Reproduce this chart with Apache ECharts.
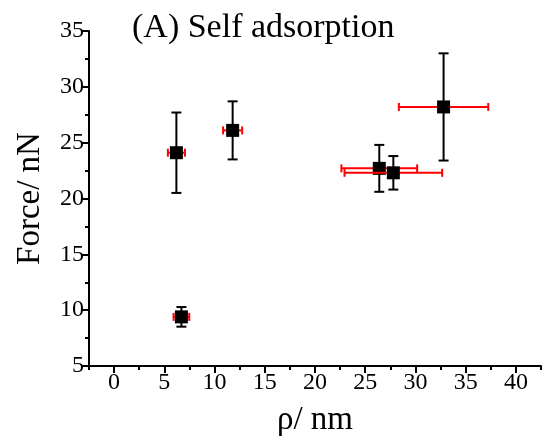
<!DOCTYPE html>
<html>
<head>
<meta charset="utf-8">
<script src="https://cdn.jsdelivr.net/npm/echarts@6/dist/echarts.min.js"></script>
<style>html,body{margin:0;padding:0;background:#fff}#c{width:544px;height:442px}</style>
</head>
<body>
<div id="c"></div>
<script>
var rho = [6.2, 11.8, 6.7, 32.8, 26.4, 27.8];
var force = [24.1, 26.1, 9.4, 28.2, 22.7, 22.3];
var forceErr = [3.6, 2.6, 0.88, 4.8, 2.1, 1.5];
var rhoErr = [0.85, 0.95, 0.78, 4.45, 3.77, 4.86];
var xMajorTicks = [0, 5, 10, 15, 20, 25, 30, 35, 40];
var xMinorTicks = [-2.5, 2.5, 7.5, 12.5, 17.5, 22.5, 27.5, 32.5, 37.5, 42.5];

var FONT = '"Liberation Serif", "Times New Roman", serif';
var data = rho.map(function (r, i) { return [r, force[i], rhoErr[i], forceErr[i]]; });

var chart = echarts.init(document.getElementById('c'));
chart.setOption({
  animation: false,
  backgroundColor: '#fff',
  title: {
    text: '(A) Self adsorption',
    left: 127, top: 6,
    textStyle: { fontFamily: FONT, fontSize: 34, fontWeight: 'normal', color: '#000' }
  },
  grid: { left: 89, right: 3, top: 31, bottom: 75 },
  xAxis: [{
    type: 'value', min: -2.5, max: 42.5,
    name: 'ρ/ nm', nameLocation: 'middle', nameGap: 38,
    nameTextStyle: { fontFamily: FONT, fontSize: 33, color: '#000' },
    axisLine: { show: true, onZero: false, lineStyle: { color: '#000', width: 2 } },
    axisTick: { show: true, customValues: xMajorTicks, length: 7, lineStyle: { color: '#000', width: 2 } },
    axisLabel: { customValues: xMajorTicks, fontFamily: FONT, fontSize: 24, color: '#000', margin: 5 },
    splitLine: { show: false }
  }, {
    type: 'value', min: -2.5, max: 42.5, position: 'bottom',
    axisLine: { show: false, onZero: false },
    axisTick: { show: true, customValues: xMinorTicks, length: 4, lineStyle: { color: '#000', width: 2 } },
    axisLabel: { show: false },
    splitLine: { show: false }
  }],
  yAxis: {
    type: 'value', min: 5, max: 35, interval: 5,
    name: 'Force/ nN', nameLocation: 'middle', nameGap: 42,
    nameTextStyle: { fontFamily: FONT, fontSize: 33, color: '#000' },
    axisLine: { show: true, onZero: false, lineStyle: { color: '#000', width: 2 } },
    axisTick: { show: true, length: 7, lineStyle: { color: '#000', width: 2 } },
    minorTick: { show: true, splitNumber: 2, length: 4, lineStyle: { color: '#000', width: 2 } },
    axisLabel: { fontFamily: FONT, fontSize: 24, color: '#000', margin: 5 },
    splitLine: { show: false }
  },
  series: [{
    type: 'custom',
    xAxisIndex: 0,
    data: data,
    renderItem: function (params, api) {
      var x = api.value(0), y = api.value(1), ex = api.value(2), ey = api.value(3);
      var c = api.coord([x, y]);
      var l = api.coord([x - ex, y]), r = api.coord([x + ex, y]);
      var t = api.coord([x, y + ey]), b = api.coord([x, y - ey]);
      var red = { stroke: '#ff0000', lineWidth: 2 };
      var blk = { stroke: '#000', lineWidth: 2 };
      var cw = 5, ch = 4, s = 6.5;
      return {
        type: 'group',
        children: [
          { type: 'line', shape: { x1: c[0], y1: t[1], x2: c[0], y2: b[1] }, style: blk },
          { type: 'line', shape: { x1: c[0] - cw, y1: t[1], x2: c[0] + cw, y2: t[1] }, style: blk },
          { type: 'line', shape: { x1: c[0] - cw, y1: b[1], x2: c[0] + cw, y2: b[1] }, style: blk },
          { type: 'line', shape: { x1: l[0], y1: c[1], x2: r[0], y2: c[1] }, style: red },
          { type: 'line', shape: { x1: l[0], y1: c[1] - ch, x2: l[0], y2: c[1] + ch }, style: red },
          { type: 'line', shape: { x1: r[0], y1: c[1] - ch, x2: r[0], y2: c[1] + ch }, style: red },
          { type: 'rect', shape: { x: c[0] - s, y: c[1] - s, width: 2 * s, height: 2 * s }, style: { fill: '#000' } }
        ]
      };
    }
  }]
});
</script>
</body>
</html>
